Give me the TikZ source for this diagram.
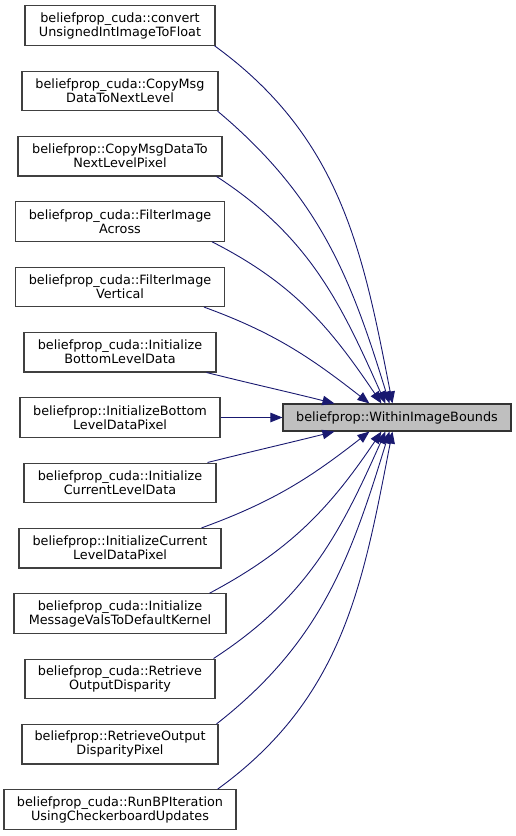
\documentclass[tikz,border=0pt]{standalone}
\usepackage{fontspec}
\setmainfont{DejaVu Sans}
\usetikzlibrary{arrows.meta}
\definecolor{edgecol}{HTML}{191970}
\definecolor{bordercol}{HTML}{404040}
\definecolor{hlfill}{HTML}{BFBFBF}
\begin{document}
\begin{tikzpicture}[x=1pt,y=1pt,
  fn/.style={draw=bordercol, line width=1.1pt, fill=white, rectangle, align=center,
    minimum height=39.5pt, inner xsep=2pt, inner ysep=0pt,
    font=\fontsize{12.8}{14}\selectfont},
  target/.style={draw=black!80, line width=1.1pt, fill=hlfill, rectangle, align=center,
    minimum width=228pt, minimum height=27pt, inner sep=0pt,
    font=\fontsize{12.8}{14}\selectfont},
  edge/.style={draw=edgecol, line width=0.9pt, -{Triangle[length=12pt,width=9.5pt,fill=edgecol]}}]
\useasboundingbox (0,0) rectangle (516,-836);

\node[target] (T) at (397,-417.5) {beliefprop::WithinImageBounds};

\node[fn, minimum width=190pt] (n1) at (120,-25.5) {beliefprop\_cuda::convert\\UnsignedIntImageToFloat};
\node[fn, minimum width=196pt] (n2) at (120,-90.8) {beliefprop\_cuda::CopyMsg\\DataToNextLevel};
\node[fn, minimum width=204pt] (n3) at (120,-156.2) {beliefprop::CopyMsgDataTo\\NextLevelPixel};
\node[fn, minimum width=209pt] (n4) at (120,-221.5) {beliefprop\_cuda::FilterImage\\Across};
\node[fn, minimum width=209pt] (n5) at (120,-286.8) {beliefprop\_cuda::FilterImage\\Vertical};
\node[fn, minimum width=192pt] (n6) at (120,-352.2) {beliefprop\_cuda::Initialize\\BottomLevelData};
\node[fn, minimum width=200pt] (n7) at (120,-417.5) {beliefprop::InitializeBottom\\LevelDataPixel};
\node[fn, minimum width=192pt] (n8) at (120,-482.8) {beliefprop\_cuda::Initialize\\CurrentLevelData};
\node[fn, minimum width=202pt] (n9) at (120,-548.2) {beliefprop::InitializeCurrent\\LevelDataPixel};
\node[fn, minimum width=212pt] (n10) at (120,-613.5) {beliefprop\_cuda::Initialize\\MessageValsToDefaultKernel};
\node[fn, minimum width=190pt] (n11) at (120,-678.8) {beliefprop\_cuda::Retrieve\\OutputDisparity};
\node[fn, minimum width=196pt] (n12) at (120,-744.2) {beliefprop::RetrieveOutput\\DisparityPixel};
\node[fn, minimum width=232pt] (n13) at (120,-809.5) {beliefprop\_cuda::RunBPIteration\\UsingCheckerboardUpdates};

% edges above
\draw[edge] ([xshift=-1pt]n1.south east) to[out=-36,in=101] ([xshift=110pt]T.north west);
\draw[edge] ([xshift=-1pt]n2.south east) to[out=-40,in=107] ([xshift=107pt]T.north west);
\draw[edge] ([xshift=-6pt]n3.south east) to[out=-33,in=114] ([xshift=103pt]T.north west);
\draw[edge] ([xshift=-13pt]n4.south east) to[out=-27,in=124] ([xshift=99pt]T.north west);
\draw[edge] ([xshift=-21pt]n5.south east) to[out=-20,in=142] ([xshift=87pt]T.north west);
\draw[edge] ([xshift=-10pt]n6.south east) to[out=-14,in=166] ([xshift=52pt]T.north west);
% straight
\draw[edge] (n7.east) -- (T.west);
% edges below
\draw[edge] ([xshift=-9pt]n8.north east) to[out=14,in=-166] ([xshift=52pt]T.south west);
\draw[edge] ([xshift=-20pt]n9.north east) to[out=20,in=-142] ([xshift=87pt]T.south west);
\draw[edge] ([xshift=-17pt]n10.north east) to[out=28,in=-124] ([xshift=99pt]T.south west);
\draw[edge] ([xshift=-2pt]n11.north east) to[out=33,in=-114] ([xshift=103pt]T.south west);
\draw[edge] ([xshift=-2pt]n12.north east) to[out=38,in=-107] ([xshift=107pt]T.south west);
\draw[edge] ([xshift=-19pt]n13.north east) to[out=36,in=-101] ([xshift=110pt]T.south west);
\end{tikzpicture}
\end{document}
